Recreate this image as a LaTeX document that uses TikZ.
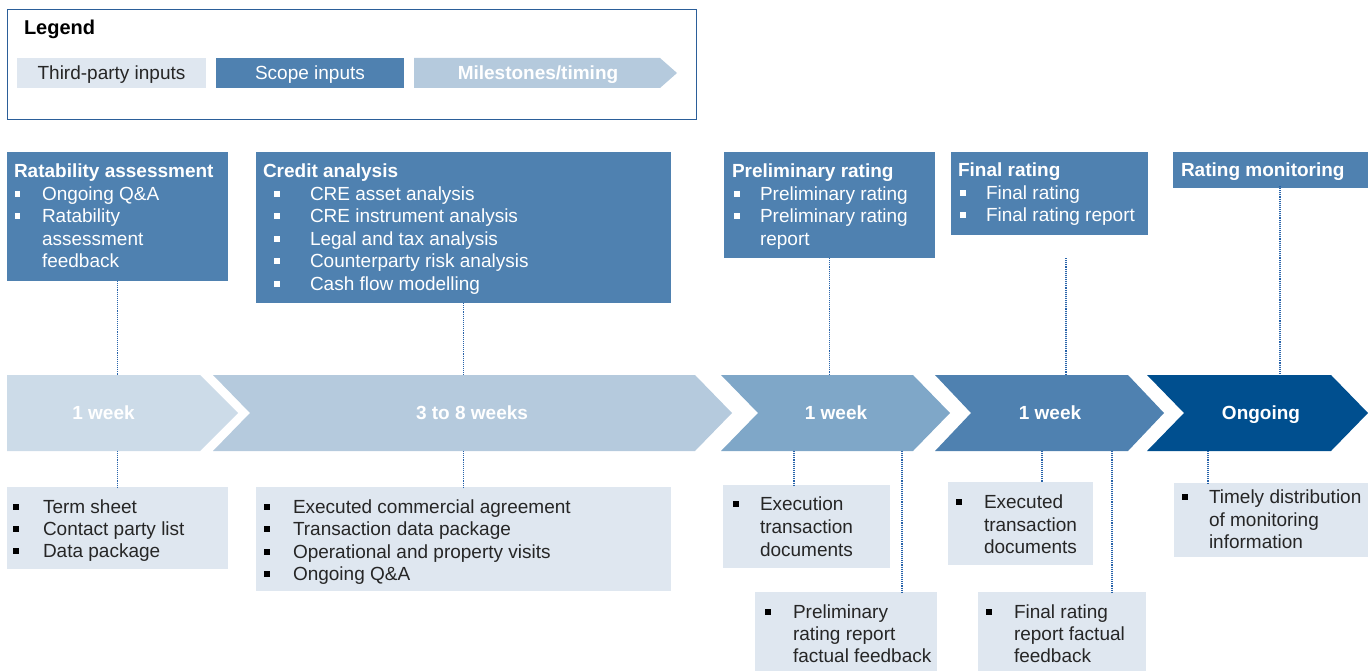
\documentclass[tikz,border=0pt]{standalone}
\usepackage{fontspec}
\setmainfont{Liberation Sans}
\definecolor{lightbox}{HTML}{DFE7F0}
\definecolor{scope}{HTML}{4F81B0}
\definecolor{mile}{HTML}{B5CADD}
\definecolor{chA}{HTML}{CCDBE8}
\definecolor{chB}{HTML}{B5CADD}
\definecolor{chC}{HTML}{7FA7C8}
\definecolor{chD}{HTML}{4F81B0}
\definecolor{chE}{HTML}{004F8F}
\definecolor{legendc}{HTML}{2B5E99}
\definecolor{dotc}{HTML}{2763AA}
\definecolor{darktext}{HTML}{262626}
\newcommand\bsq{\rule[4pt]{5.5pt}{5.5pt}}
\newcommand\mainsize{\fontsize{19}{22.5}\selectfont}
\tikzset{
  bx/.style={inner sep=0pt, outer sep=0pt},
  panel/.style={bx, anchor=north west, fill=scope},
  inbox/.style={bx, anchor=north west, fill=lightbox},
  wtxt/.style={bx, anchor=base west, text=white, font=\mainsize},
  dtxt/.style={bx, anchor=base west, text=darktext, font=\mainsize},
  dbul/.style={bx, anchor=base west, text=black, font=\mainsize},
  ttl/.style={bx, anchor=base west, text=white, font=\mainsize\bfseries},
  chevtxt/.style={bx, text=white, font=\mainsize\bfseries, text height=13.6pt, text depth=0pt, minimum height=76pt},
  legitem/.style={bx, font=\mainsize, text height=13.6pt, text depth=0pt, minimum height=30pt},
  conn/.style={densely dotted, draw=dotc, line width=1.1pt},
}
\begin{document}
\begin{tikzpicture}[x=1pt,y=-1pt]
\useasboundingbox (0,0) rectangle (1368,671);

% Legend
\node[bx, anchor=north west, draw=legendc, line width=1pt, minimum width=689pt, minimum height=110pt] (legend) at (7,10) {};
\node[bx, anchor=base west, font=\fontsize{20}{24}\selectfont\bfseries] (legtitle) at (24,34.2) {Legend};
\node[legitem, fill=lightbox, text=darktext, minimum width=189pt] (lg1) at (111.5,73) {Third-party inputs};
\node[legitem, fill=scope, text=white, minimum width=188pt] (lg2) at (310,73) {Scope inputs};
\fill[mile] (414,58) -- (660,58) -- (677,73) -- (660,88) -- (414,88) -- cycle;
\node[legitem, text=white, font=\mainsize\bfseries] (lg3) at (538,73) {Milestones/timing};

% Top panels
\node[panel, minimum width=221pt, minimum height=129pt] (ra) at (7,152) {};
\node[panel, minimum width=415pt, minimum height=151pt] (ca) at (256,152) {};
\node[panel, minimum width=211pt, minimum height=106pt] (pr) at (724,152) {};
\node[panel, minimum width=197pt, minimum height=83pt] (fr) at (951,152) {};
\node[panel, minimum width=195pt, minimum height=36pt] (rm) at (1173,152) {};

\node[ttl] (raT) at (14,177.8) {Ratability assessment};
\node[wtxt] (raB1) at (15,200.8) {\bsq};
\node[wtxt] (ra1) at (42,200.8) {Ongoing Q\&A};
\node[wtxt] (raB2) at (15,222.8) {\bsq};
\node[wtxt] (ra2) at (42,222.8) {Ratability};
\node[wtxt] (ra3) at (42,245.8) {assessment};
\node[wtxt] (ra4) at (42,267.8) {feedback};

\node[ttl] (caT) at (263,177.8) {Credit analysis};
\node[wtxt] (caB1) at (274,200.8) {\bsq};
\node[wtxt] (ca1) at (310,200.8) {CRE asset analysis};
\node[wtxt] (caB2) at (274,222.8) {\bsq};
\node[wtxt] (ca2) at (310,222.8) {CRE instrument analysis};
\node[wtxt] (caB3) at (274,245.8) {\bsq};
\node[wtxt] (ca3) at (310,245.8) {Legal and tax analysis};
\node[wtxt] (caB4) at (274,267.8) {\bsq};
\node[wtxt] (ca4) at (310,267.8) {Counterparty risk analysis};
\node[wtxt] (caB5) at (274,290.8) {\bsq};
\node[wtxt] (ca5) at (310,290.8) {Cash flow modelling};

\node[ttl] (prT) at (732,177.8) {Preliminary rating};
\node[wtxt] (prB1) at (734,200.8) {\bsq};
\node[wtxt] (pr1) at (760,200.8) {Preliminary rating};
\node[wtxt] (prB2) at (734,222.8) {\bsq};
\node[wtxt] (pr2) at (760,222.8) {Preliminary rating};
\node[wtxt] (pr3) at (760,245.8) {report};

\node[ttl] (frT) at (958,176.8) {Final rating};
\node[wtxt] (frB1) at (960,199.8) {\bsq};
\node[wtxt] (fr1) at (986,199.8) {Final rating};
\node[wtxt] (frB2) at (960,221.8) {\bsq};
\node[wtxt] (fr2) at (986,221.8) {Final rating report};

\node[ttl] (rmT) at (1181,176.8) {Rating monitoring};

% Chevrons
\fill[chA] (7,375) -- (200,375) -- (238,413) -- (200,451) -- (7,451) -- cycle;
\fill[chB] (213,375) -- (695,375) -- (732,413) -- (695,451) -- (213,451) -- (250,413) -- cycle;
\fill[chC] (721,375) -- (913,375) -- (950,413) -- (913,451) -- (721,451) -- (758,413) -- cycle;
\fill[chD] (935,375) -- (1128,375) -- (1164,413) -- (1128,451) -- (935,451) -- (971,413) -- cycle;
\fill[chE] (1147,375) -- (1331,375) -- (1368,413) -- (1331,451) -- (1147,451) -- (1184,413) -- cycle;
\node[chevtxt] (ch1) at (103.5,413) {1 week};
\node[chevtxt] (ch2) at (472,413) {3 to 8 weeks};
\node[chevtxt] (ch3) at (836,413) {1 week};
\node[chevtxt] (ch4) at (1050,413) {1 week};
\node[chevtxt] (ch5) at (1261,413) {Ongoing};

% Bottom boxes
\node[inbox, minimum width=221pt, minimum height=82pt] (b1) at (7,487) {};
\node[inbox, minimum width=415pt, minimum height=104pt] (b2) at (256,487) {};
\node[inbox, minimum width=167pt, minimum height=83pt] (b3) at (723,485) {};
\node[inbox, minimum width=182pt, minimum height=79pt] (b4) at (755,592) {};
\node[inbox, minimum width=145pt, minimum height=83pt] (b5) at (948,482) {};
\node[inbox, minimum width=168pt, minimum height=79pt] (b6) at (978,592) {};
\node[inbox, minimum width=194pt, minimum height=74pt] (b7) at (1174,483) {};

\node[dbul] (b1B1) at (13,513.8) {\bsq};
\node[dtxt] (b1t1) at (43,513.8) {Term sheet};
\node[dbul] (b1B2) at (13,535.8) {\bsq};
\node[dtxt] (b1t2) at (43,535.8) {Contact party list};
\node[dbul] (b1B3) at (13,557.8) {\bsq};
\node[dtxt] (b1t3) at (43,557.8) {Data package};

\node[dbul] (b2B1) at (264,513.8) {\bsq};
\node[dtxt] (b2t1) at (293,513.8) {Executed commercial agreement};
\node[dbul] (b2B2) at (264,535.8) {\bsq};
\node[dtxt] (b2t2) at (293,535.8) {Transaction data package};
\node[dbul] (b2B3) at (264,558.8) {\bsq};
\node[dtxt] (b2t3) at (293,558.8) {Operational and property visits};
\node[dbul] (b2B4) at (264,580.8) {\bsq};
\node[dtxt] (b2t4) at (293,580.8) {Ongoing Q\&A};

\node[dbul] (b3B1) at (733,510.8) {\bsq};
\node[dtxt] (b3t1) at (760,510.8) {Execution};
\node[dtxt] (b3t2) at (760,533.8) {transaction};
\node[dtxt] (b3t3) at (760,556.8) {documents};

\node[dbul] (b4B1) at (765,618.8) {\bsq};
\node[dtxt] (b4t1) at (793,618.8) {Preliminary};
\node[dtxt] (b4t2) at (793,640.8) {rating report};
\node[dtxt] (b4t3) at (793,662.8) {factual feedback};

\node[dbul] (b5B1) at (956,508.8) {\bsq};
\node[dtxt] (b5t1) at (984,508.8) {Executed};
\node[dtxt] (b5t2) at (984,531.8) {transaction};
\node[dtxt] (b5t3) at (984,553.8) {documents};

\node[dbul] (b6B1) at (986,618.8) {\bsq};
\node[dtxt] (b6t1) at (1014,618.8) {Final rating};
\node[dtxt] (b6t2) at (1014,640.8) {report factual};
\node[dtxt] (b6t3) at (1014,662.8) {feedback};

\node[dbul] (b7B1) at (1182,503.8) {\bsq};
\node[dtxt] (b7t1) at (1209,503.8) {Timely distribution};
\node[dtxt] (b7t2) at (1209,526.8) {of monitoring};
\node[dtxt] (b7t3) at (1209,548.8) {information};

% Connectors top
\draw[conn] (ra.south) -- (ra.south |- ch1.north);
\draw[conn] (ca.south) -- (ca.south |- ch2.north);
\draw[conn] (pr.south) -- (pr.south |- ch3.north);
\draw[conn] (1066,0 |- pr.south) -- (1066,0 |- ch4.north);
\draw[conn] ([yshift=2pt]1280,0 |- rm.south) -- (1280,0 |- ch5.north);
% Connectors bottom
\draw[conn] (ch1.south -| b1.north) -- (b1.north);
\draw[conn] (ch2.south -| b2.north) -- (b2.north);
\draw[conn] (794,0 |- ch3.south) -- (794,0 |- b3.north);
\draw[conn] (902,0 |- ch3.south) -- (902,0 |- b4.north);
\draw[conn] (1042,0 |- ch4.south) -- (1042,0 |- b5.north);
\draw[conn] (1112,0 |- ch4.south) -- (1112,0 |- b6.north);
\draw[conn] (1208,0 |- ch5.south) -- (1208,0 |- b7.north);
\end{tikzpicture}
\end{document}
